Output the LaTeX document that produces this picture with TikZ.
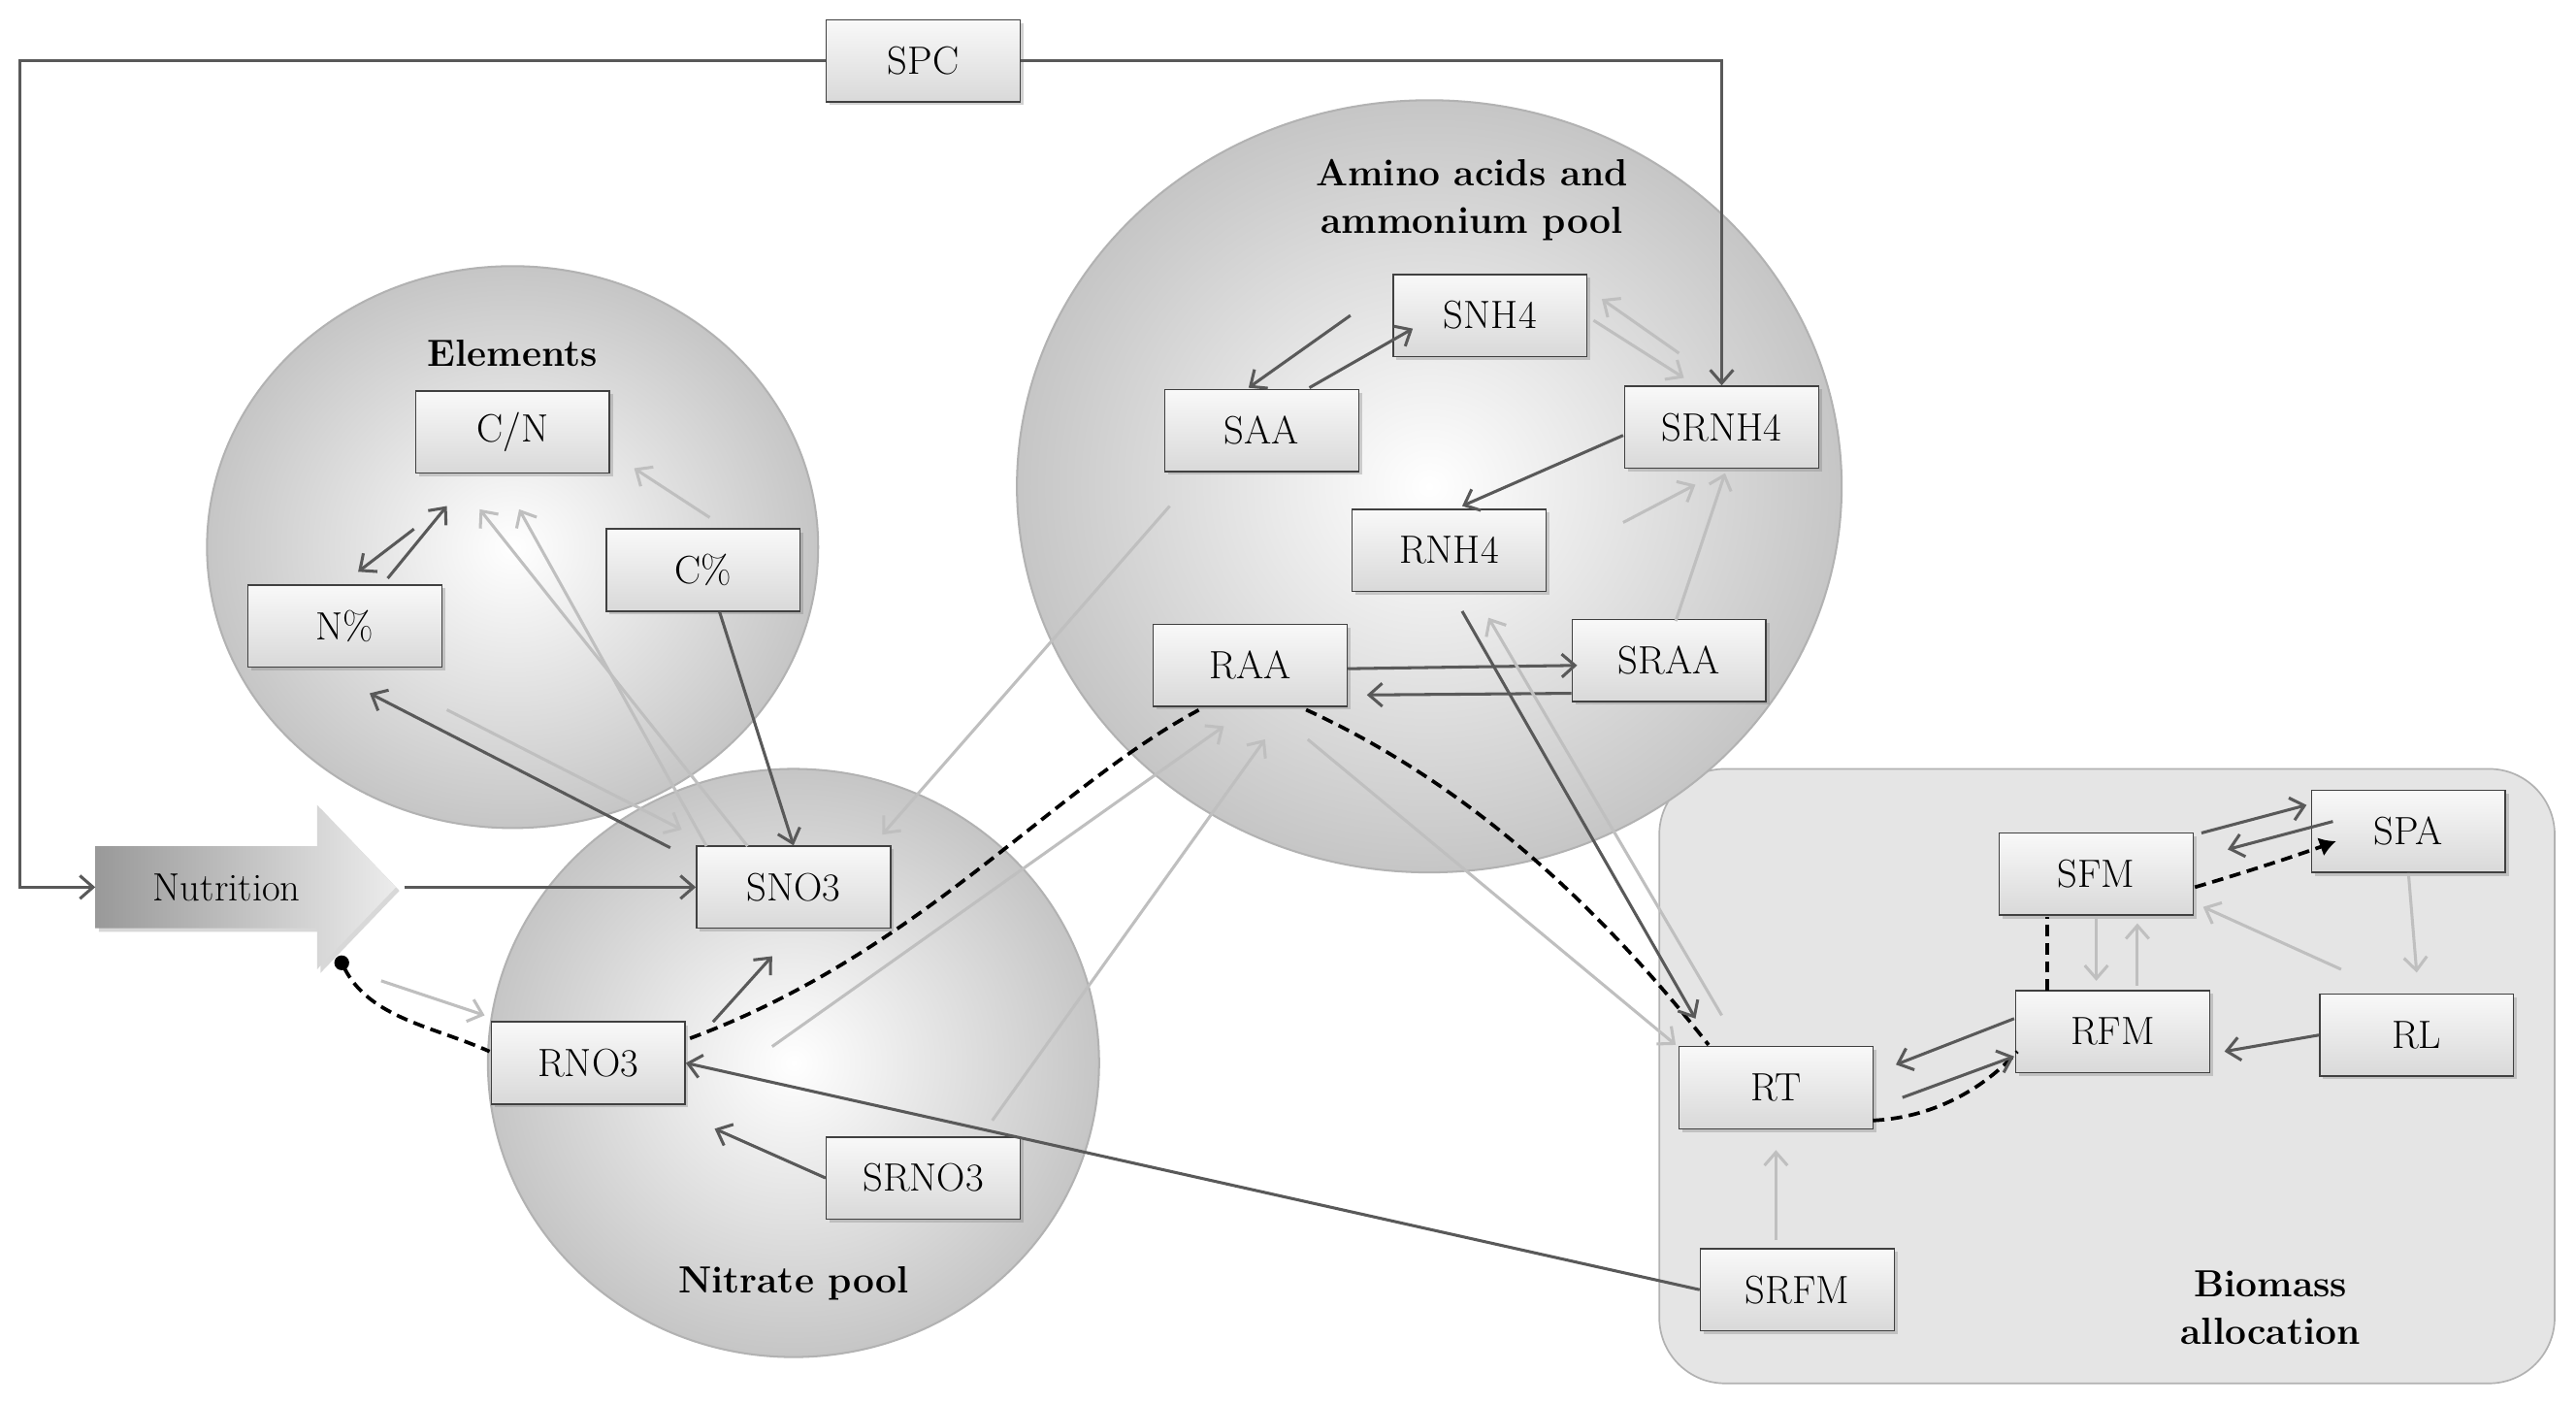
\documentclass[tikz,border=0pt]{standalone}
\usetikzlibrary{arrows.meta,shadows}
\begin{document}
\begin{tikzpicture}[x=1pt,y=-1pt,
 box/.style={draw=black!75,line width=0.9pt,top color=gray!5,bottom color=gray!30,minimum width=118pt,minimum height=50pt,font=\fontsize{24}{28}\selectfont,drop shadow={opacity=0.35,shadow xshift=2pt,shadow yshift=-2pt}},
 pool/.style={draw=gray!60,line width=1.2pt,inner color=white,outer color=gray!45},
 lab/.style={font=\bfseries\fontsize{23}{29}\selectfont,align=center},
 dk/.style={draw=black!65,line width=1.8pt,-{Straight Barb[length=8pt,width=14pt]}},
 lt/.style={draw=black!25,line width=1.8pt,-{Straight Barb[length=8pt,width=14pt]}},
 dsh/.style={draw=black,line width=2.2pt,dash pattern=on 7pt off 4pt}]
\useasboundingbox (0,0) rectangle (1568,854);
\fill[white] (0,0) rectangle (1568,854);
% pools
\draw[draw=gray!60,line width=1pt,fill=gray!20,rounded corners=40pt] (1010,468) rectangle (1555,842);
\shade[pool] (312,333) ellipse (186 and 171);
\shade[pool] (870,296) ellipse (251 and 235);
\shade[pool] (483,647) ellipse (186 and 179);
\node[lab] (lel) at (312,215) {Elements};
\node[lab] (lam) at (896,122) {Amino acids and\\ammonium pool};
\node[lab] (lni) at (483,781) {Nitrate pool};
\node[lab] (lbi) at (1382,796) {Biomass\\allocation};
% nodes
\node[box] (SPC) at (562,37) {SPC};
\node[box] (CN) at (312,263) {C/N};
\node[box] (Np) at (210,381) {N\%};
\node[box] (Cp) at (428,347) {C\%};
\node[box] (SNO3) at (483,540) {SNO3};
\node[box] (RNO3) at (358,647) {RNO3};
\node[box] (SRNO3) at (562,717) {SRNO3};
\node[box] (SNH4) at (907,192) {SNH4};
\node[box] (SAA) at (768,262) {SAA};
\node[box] (SRNH4) at (1048,260) {SRNH4};
\node[box] (RNH4) at (882,335) {RNH4};
\node[box] (RAA) at (761,405) {RAA};
\node[box] (SRAA) at (1016,402) {SRAA};
\node[box] (RT) at (1081,662) {RT};
\node[box] (SRFM) at (1094,785) {SRFM};
\node[box] (SFM) at (1276,532) {SFM};
\node[box] (SPA) at (1466,506) {SPA};
\node[box] (RFM) at (1286,628) {RFM};
\node[box] (RL) at (1471,630) {RL};
\shade[left color=gray!80,right color=gray!15,drop shadow={opacity=0.3}] (58,515) -- (193,515) -- (193,490) -- (241,540) -- (193,590) -- (193,565) -- (58,565) -- cycle;
\node[font=\fontsize{24}{28}\selectfont,inner sep=0pt] (Nut) at (138,540) {Nutrition};
\coordinate (nutw) at (58,540);
\coordinate (nute) at (246,540);
% SPC loop
\draw[dk] (SPC.west) -| (12,540) -- (nutw);
\draw[dk] (SPC.east) -| (SRNH4.north);
\draw[dk] (nute) -- (SNO3.west);
% elements
\draw[dk] (252,322) -- (218,348);
\draw[dk] (236,352) -- (272,308);
\draw[dk] (Cp.south) ++(10,0) -- (SNO3.north);
\draw[dk] (408,516) -- (225,422);
\draw[lt] (432,315) -- (386,285);
\draw[lt] (430,515) -- (316,310);
\draw[lt] (455,515) -- (292,310);
\draw[lt] (272,432) -- (415,505);
\draw[lt] (712,308) -- (537,508);
% nitrate
\draw[dk] (434,622) -- (470,582);
\draw[dk] (SRNO3.west) -- (435,687);
\draw[dk] (SRFM.west) -- (RNO3.east);
\draw[lt] (470,637) -- (745,442);
\draw[lt] (604,682) -- (770,450);
\draw[lt] (232,597) -- (295,618);
% dashed
\draw[dsh] (420,632) .. controls (560,580) and (640,480) .. (730,432);
\draw[dsh,{Circle[length=9pt]}-] (206,582) .. controls (225,620) and (265,625) .. (298,640);
\draw[dsh] (795,432) .. controls (900,480) and (980,560) .. (1040,636);
\draw[dsh] (1140,682) .. controls (1180,680) and (1210,660) .. (1228,640);
\draw[dsh] (1246,603) -- (1246,558);
\draw[dsh,-{Latex[length=10pt,width=12pt]}] (1336,540) .. controls (1370,530) and (1400,520) .. (1422,512);
% amino
\draw[dk] (822,192) -- (760,236);
\draw[dk] (797,236) -- (860,200);
\draw[lt] (1022,215) -- (975,182);
\draw[lt] (970,195) -- (1025,230);
\draw[dk] (988,265) -- (890,308);
\draw[lt] (988,318) -- (1032,295);
\draw[lt] (1020,378) -- (1050,288);
\draw[dk] (RAA.east) ++(0,2) -- (960,405);
\draw[dk] (SRAA.west) ++(0,20) -- (832,423);
\draw[dk] (890,372) -- (1032,620);
\draw[lt] (1048,618) -- (906,376);
\draw[lt] (796,450) -- (1020,636);
% biomass
\draw[dk] (1226,620) -- (1154,648);
\draw[dk] (1158,668) -- (1226,643);
\draw[dk] (RL.west) -- (1354,640);
\draw[lt] (1276,558) -- (1276,597);
\draw[lt] (1301,600) -- (1301,562);
\draw[dk] (1340,507) -- (1404,490);
\draw[dk] (1420,500) -- (1356,517);
\draw[lt] (SPA.south) -- (1471,592);
\draw[lt] (1425,590) -- (1341,552);
\draw[lt] (1081,755) -- (1081,700);
\end{tikzpicture}
\end{document}
